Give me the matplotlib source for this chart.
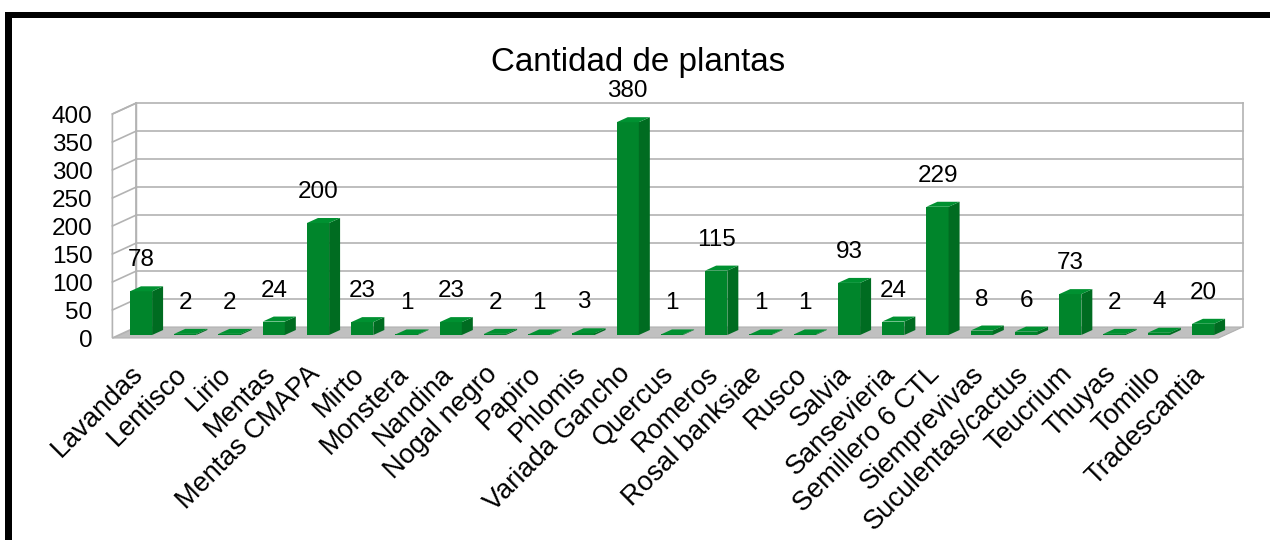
import matplotlib
matplotlib.use('Agg')
import matplotlib.pyplot as plt
from matplotlib.patches import Polygon, Rectangle
from matplotlib.transforms import IdentityTransform, ScaledTranslation

categories = ["Lavandas", "Lentisco", "Lirio", "Mentas", "Mentas CMAPA", "Mirto",
              "Monstera", "Nandina", "Nogal negro", "Papiro", "Phlomis",
              "Variada Gancho", "Quercus", "Romeros", "Rosal banksiae", "Rusco",
              "Salvia", "Sansevieria", "Semillero 6 CTL", "Siemprevivas",
              "Suculentas/cactus", "Teucrium", "Thuyas", "Tomillo", "Tradescantia"]
values = [78, 2, 2, 24, 200, 23, 1, 23, 2, 1, 3, 380, 1, 115, 1, 1, 93, 24, 229,
          8, 6, 73, 2, 4, 20]
yticks = [0, 50, 100, 150, 200, 250, 300, 350, 400]
title = "Cantidad de plantas"

plt.rcParams['font.family'] = ['Liberation Sans', 'DejaVu Sans']

W, H = 1270, 540
DPI = 100
fig = plt.figure(figsize=(W / DPI, H / DPI), dpi=DPI)
fig.patch.set_facecolor('white')

n = len(categories)
ax = fig.add_axes([118.9 / W, (H - 335) / H, 1106.25 / W, 224 / H])
ax.set_xlim(-0.5, n - 0.5)
ax.set_ylim(0, 400)
ax.axis('off')

FRONT = (-6.5, -3.0)
BACK = (17.5, 8.0)
DEPTH = (11.0, 5.0)

C_FRONT = '#00852b'
C_TOP = '#009131'
C_SIDE = '#006c21'
C_GRID = '#b3b3b3'
C_FLOOR = '#c0c0c0'

IDT = IdentityTransform()


def P(x, y, off=(0, 0)):
    d = ax.transData.transform((x, y))
    return (d[0] + off[0], d[1] + off[1])


def poly(pts, z, **kw):
    p = Polygon(pts, closed=True, transform=IDT, clip_on=False, zorder=z, **kw)
    ax.add_patch(p)


def line(p1, p2, z=2, color=C_GRID, lw=1.2):
    ax.add_line(plt.Line2D([p1[0], p2[0]], [p1[1], p2[1]], transform=IDT,
                           color=color, lw=lw, clip_on=False, zorder=z))


def offset(dx, dy):
    return ax.transData + ScaledTranslation(dx / DPI, dy / DPI, fig.dpi_scale_trans)


x0, x1 = -0.5, n - 0.5
ymax = yticks[-1]

# floor
poly([P(x0, 0, FRONT), P(x1, 0, FRONT), P(x1, 0, BACK), P(x0, 0, BACK)], 1,
     facecolor=C_FLOOR, edgecolor='#b0b0b0', lw=0.8)
# left side wall
poly([P(x0, 0, FRONT), P(x0, 0, BACK), P(x0, ymax, BACK), P(x0, ymax, FRONT)], 1,
     facecolor='white', edgecolor=C_GRID, lw=1.2)
# back wall verticals
line(P(x0, 0, BACK), P(x0, ymax, BACK))
line(P(x1, 0, BACK), P(x1, ymax, BACK))
# gridlines
for t in yticks[1:]:
    line(P(x0, t, BACK), P(x1, t, BACK))
    line(P(x0, t, FRONT), P(x0, t, BACK))

# tick labels
for t in yticks:
    ax.text(x0, t, str(t), transform=offset(FRONT[0] - 20, FRONT[1] - 3),
            ha='right', va='center', fontsize=17.5, color='black')

# bars
ax.bar(range(n), values, width=0.5, color=C_FRONT, zorder=5, linewidth=0)
hw = 0.25
for i, v in enumerate(values):
    # side face
    poly([P(i + hw, 0), P(i + hw, v), P(i + hw, v, DEPTH), P(i + hw, 0, DEPTH)], 5,
         facecolor=C_SIDE, edgecolor='none')
    # top face
    poly([P(i - hw, v), P(i + hw, v), P(i + hw, v, DEPTH), P(i - hw, v, DEPTH)], 5,
         facecolor=C_TOP, edgecolor='none')
    # value label
    ax.text(i, v, str(v), transform=offset(0, 31), ha='center', va='center',
            fontsize=17.5, color='black', zorder=6)
    # category label
    ax.text(i - 0.25, 0, categories[i], transform=offset(0, -26), ha='right',
            va='top', rotation=45, rotation_mode='anchor', fontsize=19.5,
            color='black')

# title
fig.text(638.5 / W, 1 - 63 / H, title, ha='center', va='center', fontsize=23.9,
         color='black')

# black frame (cropped)
fig.add_artist(Rectangle((5 / W, 0), 7 / W, (H - 12) / H, transform=fig.transFigure,
                         facecolor='black', edgecolor='none'))
fig.add_artist(Rectangle((5 / W, (H - 18) / H), 1 - 5 / W, 6 / H,
                         transform=fig.transFigure, facecolor='black', edgecolor='none'))

fig.savefig('out.png', dpi=DPI, facecolor='white')
